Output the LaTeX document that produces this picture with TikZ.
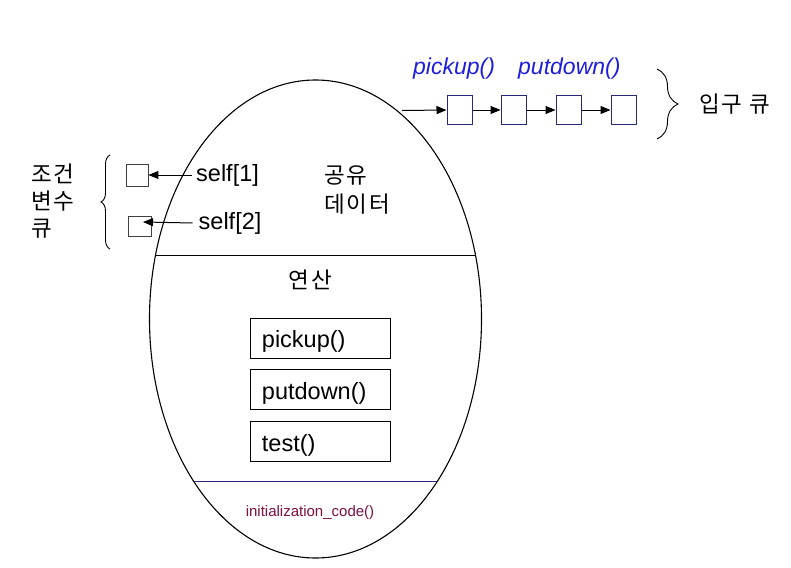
\documentclass[tikz,border=0pt]{standalone}
\usepackage{fontspec}
\setmainfont{Liberation Sans}
\newfontfamily\kr[LetterSpace=8]{Noto Sans CJK KR}
\usetikzlibrary{arrows.meta,decorations.pathreplacing,shapes.geometric}
\definecolor{navy}{RGB}{40,40,120}
\definecolor{lblue}{RGB}{30,30,220}
\definecolor{maroon}{RGB}{125,15,65}
\begin{document}
\begin{tikzpicture}[x=1pt,y=-1pt,
  txt/.style={inner sep=0pt,anchor=west,font=\fontsize{23.5}{28}\selectfont},
  krtxt/.style={inner sep=0pt,anchor=west,font=\kr\fontsize{22.5}{27}\selectfont},
  opbox/.style={draw,line width=0.9pt,anchor=north west,minimum height=40pt,text width=116pt,text height=21pt,text depth=1pt,inner xsep=12pt,inner ysep=0pt,align=left,font=\fontsize{23.5}{28}\selectfont},
  qbox/.style={draw=navy,line width=1pt,minimum width=25pt,minimum height=29pt,inner sep=0pt},
  cbox/.style={draw=black!75,line width=0.9pt,inner sep=0pt},
  arr/.style={-{Triangle[length=10pt,width=8pt]},line width=1pt},
  brc/.style={decorate,line width=0.9pt}]
\useasboundingbox (0,0) rectangle (791,567);
% monitor ellipse
\node[draw,ellipse,line width=1.1pt,minimum width=332pt,minimum height=478pt,inner sep=0pt] (mon) at (315.5,319) {};
\coordinate (l1a) at (155.5,255);
\coordinate (l1b) at (475.5,255);
\draw[line width=1pt] (l1a) -- (l1b);
\coordinate (l2a) at (193.5,481);
\coordinate (l2b) at (437.5,481);
\draw[navy,line width=1pt] (l2a) -- (l2b);
% shared data
\node[krtxt] (sh1) at (324,175) {공유};
\node[krtxt] (sh2) at (324,204) {데이터};
\node[krtxt,anchor=center] (ops) at (310.5,280) {연산};
% operation boxes
\node[opbox] (pick) at (249.5,317.5) {pickup()};
\node[opbox] (putd) at (249.5,369) {putdown()};
\node[opbox] (tst) at (249.5,421) {test()};
\node[inner sep=0pt,text=maroon,font=\fontsize{15}{18}\selectfont] (init) at (310,513) {initialization\_code()};
% entry queue
\coordinate (qin) at (402,110.5);
\node[qbox] (q1) at (459.5,110) {};
\node[qbox] (q2) at (513.5,110) {};
\node[qbox] (q3) at (568.5,110) {};
\node[qbox] (q4) at (623.5,110) {};
\draw[arr] (qin) -- (q1.west);
\draw[arr] (q1.east) -- (q2.west);
\draw[arr] (q2.east) -- (q3.west);
\draw[arr] (q3.east) -- (q4.west);
\node[txt,text=lblue,font=\itshape\fontsize{23}{27}\selectfont] (lpick) at (413,69) {pickup()};
\node[txt,text=lblue,font=\itshape\fontsize{23}{27}\selectfont] (lput) at (518,69) {putdown()};
\coordinate (qb1) at (657,69);
\coordinate (qb2) at (657,139);
\draw[brc,decoration={brace,amplitude=21pt}] (qb1) -- (qb2);
\node[krtxt] (entq) at (699,104) {입구 큐};
% condition variables
\node[cbox,minimum width=22pt,minimum height=22pt] (c1) at (137,175) {};
\node[cbox,minimum width=23pt,minimum height=20pt] (c2) at (139.5,226) {};
\node[txt] (s1) at (196,175) {self[1]};
\node[txt] (s2) at (198.5,223) {self[2]};
\draw[arr] (s1.west) ++(-4,0) coordinate (s1a) -- (c1.east);
\coordinate (c2t) at (143,222);
\draw[arr] (s2.west) ++(-6,0) coordinate (s2a) -- (c2t);
\coordinate (lb1) at (110,249);
\coordinate (lb2) at (110,155);
\draw[brc,decoration={brace,amplitude=9pt}] (lb1) -- (lb2);
\node[krtxt] (cv1) at (31,174) {조건};
\node[krtxt] (cv2) at (31,201) {변수};
\node[krtxt] (cv3) at (31,229) {큐};
\end{tikzpicture}
\end{document}
